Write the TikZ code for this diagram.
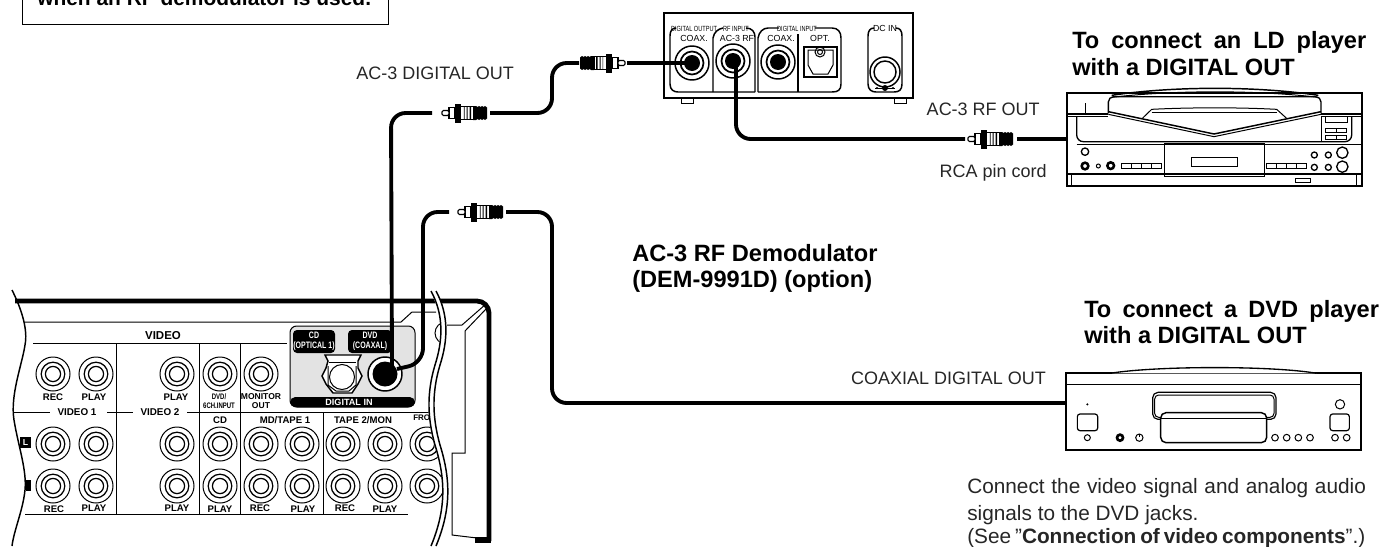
\documentclass[tikz,border=0pt]{standalone}
\usepackage{fontspec}
\setmainfont{Liberation Sans}
\newfontfamily\narrowf{Liberation Sans}[FakeStretch=0.75]
\newcommand{\rcaplug}{%
  \fill (0,-5.5) -- (2,-7) -- (3.5,-6) -- (5,-7) -- (6.5,-6) -- (8,-7) -- (9.5,-6) -- (11,-7) -- (14,-7)
     -- (14,7) -- (11,7) -- (9.5,6) -- (8,7) -- (6.5,6) -- (5,7) -- (3.5,6) -- (2,7) -- (0,5.5) -- cycle;
  \draw[line width=.7pt,fill=white] (14,-6.5) rectangle (27,6.5);
  \fill (16,-6.5) rectangle (17.5,6.5) (19.5,-6.5) rectangle (20.5,6.5) (22.5,-6.5) rectangle (23.2,6.5);
  \fill (26,-9.5) rectangle (32,9.5);
  \draw[line width=.8pt,fill=white] (32,-5.5) rectangle (38,5.5);
  \draw[line width=.8pt,fill=white,rounded corners=1pt] (38,-2.5) rectangle (45,2.5);
}
\tikzset{
 x=0.75pt,y=-0.75pt,
 cable/.style={line width=2.9pt,line cap=butt,rounded corners=11pt},
 thin line/.style={line width=0.75pt},
 mid line/.style={line width=1.1pt},
 lbl/.style={font=\fontsize{13.5pt}{16pt}\selectfont,text=black!85,inner sep=0pt,anchor=base west},
 lble/.style={font=\fontsize{13.5pt}{16pt}\selectfont,text=black!85,inner sep=0pt,anchor=base east},
 notetxt/.style={font=\fontsize{15.6pt}{18pt}\selectfont,text=black!85,inner sep=0pt,anchor=base west},
 head/.style={font=\fontsize{17.7pt}{20pt}\bfseries\selectfont,inner sep=0pt,anchor=base west},
 pan/.style={font=\fontsize{7.2pt}{8pt}\bfseries\selectfont,inner sep=0pt,align=center},
 panw/.style={font=\narrowf\fontsize{7pt}{7.6pt}\bfseries\selectfont,text=white,inner sep=0pt,align=center},
 tiny/.style={font=\narrowf\fontsize{5.6pt}{6pt}\selectfont,inner sep=0pt},
 small/.style={font=\fontsize{6.6pt}{7pt}\selectfont,inner sep=0pt},
 plugr/.pic={\rcaplug},
 plugl/.pic={\begin{scope}[xscale=-1]\rcaplug\end{scope}},
 rcajack/.pic={
  \draw[thin line,fill=white] (0,0) circle[radius=17];
  \draw[line width=.95pt] (0,0) circle[radius=11.8];
  \draw[line width=.95pt] (0,0) circle[radius=7.6];
 },
 boxjack/.pic={
  \draw[mid line,fill=white] (0,0) circle[radius=17];
  \draw[line width=1.3pt] (0,0) circle[radius=11.5];
  \fill (0,0) circle[radius=8];
 }
}
\begin{document}
\begin{tikzpicture}
\useasboundingbox (0,0) rectangle (1380,546);
\clip (0,0) rectangle (1380,546);

%% note box
\draw[thin line] (22,-5) rectangle (388,24.5);
\node[font=\fontsize{15.7pt}{18pt}\bfseries\selectfont,inner sep=0pt,anchor=base west] (note) at (37,5) {when an RF demodulator is used.};

%% ---------- receiver back panel: field
\draw[thin line] (33,343) -- (287,343);
\draw[thin line] (116,343) -- (116,514) (199,343) -- (199,514) (240,343) -- (240,514) (323,412) -- (323,514);
\draw[thin line] (13,412) -- (50,412) (107,412) -- (133,412) (187,412) -- (434,412);
\draw[thin line] (25,514) -- (408,514);
\draw[thin line] (446,333) circle[radius=11];
\draw[thin line] (446,375) circle[radius=12];
\foreach \x in {53,96,177,220,261} \pic at (\x,374) {rcajack};
\foreach \x in {53,96,177,220,261,302,343,385,427} {\pic at (\x,444) {rcajack};\pic at (\x,486) {rcajack};}
%% white area right of the torn edge
\fill[white] (433,291) .. controls (446,315) and (445,340) .. (437,365) .. controls (428,395) and (430,420) .. (437,445) .. controls (448,480) and (448,510) .. (433,546) -- (500,546) -- (500,291) -- cycle;
%% outline
\draw[thin line] (24,322) -- (401,322) -- (412,312) -- (436,312);
\draw[thin line] (447,325) -- (462,325) -- (486,304);
\draw[thin line] (465,331) -- (486,309);
\draw[thin line] (465,331) -- (465,453) -- (452,453) -- (452,535) -- (477,538);
\draw[line width=3.6pt,rounded corners=9pt] (15,301) -- (489,301) -- (489,541);
\fill (475,537) rectangle (491,543);
%% texts
\node[pan,font=\fontsize{8.6pt}{9pt}\bfseries\selectfont] (tvideo) at (163,336) {VIDEO};
\node[pan] (l1) at (53,397) {REC};
\node[pan] (l2) at (94,397) {PLAY};
\node[pan] (l3) at (176,397) {PLAY};
\node[pan,font=\fontsize{7.4pt}{8pt}\bfseries\selectfont] (l4) at (77,412) {VIDEO 1};
\node[pan,font=\fontsize{7.4pt}{8pt}\bfseries\selectfont] (l5) at (160,412) {VIDEO 2};
\node[pan] (l6) at (220,420) {CD};
\node[pan] (l7) at (285,420) {MD/TAPE 1};
\node[pan] (l8) at (363,420) {TAPE 2/MON};
\node[pan,font=\fontsize{6pt}{7pt}\bfseries\selectfont,anchor=west] (l9) at (413,418) {FRO};
\node[pan,font=\narrowf\fontsize{6pt}{7pt}\bfseries\selectfont] (l10) at (219,401) {DVD/\\[-.5pt]6CH.INPUT};
\node[pan,font=\fontsize{6.4pt}{7.2pt}\bfseries\selectfont] (l11) at (261,401) {MONITOR\\OUT};
\node[pan] (l12) at (54,509) {REC};
\node[pan] (l13) at (94,508) {PLAY};
\node[pan] (l14) at (177,508) {PLAY};
\node[pan] (l15) at (220,509) {PLAY};
\node[pan] (l16) at (260,508) {REC};
\node[pan] (l17) at (303,509) {PLAY};
\node[pan] (l18) at (345,508) {REC};
\node[pan] (l19) at (385,509) {PLAY};
\fill (20,437) rectangle (31,448);
\node[panw,font=\fontsize{6.5pt}{7pt}\bfseries\selectfont] (tl) at (25.5,442.5) {L};
\fill (26,480) rectangle (31,491);
%% digital in panel
\fill[white] (287,323) rectangle (418,410);
\draw[thin line,fill=black!11,rounded corners=5pt] (290,326) rectangle (415,407);
\fill[rounded corners=4pt] (290,397) -- (290,407) -- (415,407) -- (415,397) -- cycle;
\fill[rounded corners=3pt] (293,330) rectangle (335,353);
\fill[rounded corners=3pt] (348,330) rectangle (392,353);
\node[panw] (td1) at (314,341.5) {CD\\(OPTICAL 1)};
\node[panw] (td2) at (370,341.5) {DVD\\(COAXAL)};
\node[panw,font=\fontsize{6.8pt}{7pt}\bfseries\selectfont] (td3) at (349,402) {DIGITAL IN};
\draw[mid line,fill=white] (325,355) -- (361,355) -- (358,361) -- (358,368) -- (362,376) -- (358,384) -- (352,393) -- (333,393) -- (326,384) -- (322,376) -- (326,368) -- (328,361) -- cycle;
\draw[thin line] (329,362) -- (356,362);
\draw[thin line,fill=white] (342,377) circle[radius=12.5];
\draw[thin line] (328,366) -- (328,385) -- (336,391) -- (349,391) -- (356,385) -- (356,366);
\draw[mid line,fill=white] (385,374) circle[radius=17];
\fill (385,374) circle[radius=12.5] coordinate (dvdjack);
%% torn edges
\draw[mid line] (12,290) .. controls (22,310) and (28,330) .. (25,345) .. controls (22,365) and (10,395) .. (14,420) .. controls (18,445) and (27,470) .. (25,490) .. controls (23,510) and (14,530) .. (12,546);
\draw[line width=3.9pt,white] (433,291) .. controls (446,315) and (445,340) .. (437,365) .. controls (428,395) and (430,420) .. (437,445) .. controls (448,480) and (448,510) .. (433,546);
\draw[mid line] (431,291) .. controls (444,315) and (443,340) .. (435,365) .. controls (426,395) and (428,420) .. (435,445) .. controls (446,480) and (446,510) .. (431,546);
\draw[mid line] (436,291) .. controls (449,315) and (448,340) .. (440,365) .. controls (431,395) and (433,420) .. (440,445) .. controls (451,480) and (451,510) .. (436,546);

%% ---------- demodulator
\node[draw,mid line,minimum width=249*0.75pt,minimum height=85*0.75pt,inner sep=0pt] (dem) at (788.5,55.5) {};
\draw[thin line] (681,98) rectangle (693,103) (894,98) rectangle (906,103);
\draw[mid line] (676,28) .. controls (672,28) and (670,31) .. (670,36) -- (670,84) .. controls (670,90) and (674,92) .. (678,92) -- (755,92);
\draw[mid line] (713,92) -- (713,38) .. controls (714,32) and (718,29) .. (723,28);
\draw[mid line] (746,28) .. controls (752,28) and (755,32) .. (755,37) -- (755,92);
\draw[mid line] (758,92) -- (758,38) .. controls (759,32) and (763,28) .. (768,28) -- (779,28);
\draw[mid line] (815,28) -- (832,28) .. controls (838,28) and (841,32) .. (841,38) -- (841,84) .. controls (841,90) and (838,92) .. (832,92) -- (758,92);
\draw[mid line] (798,34) -- (798,92);
\draw[mid line] (874,28) .. controls (870,28) and (868,31) .. (868,36) -- (868,84) .. controls (868,90) and (872,92) .. (876,92) -- (894,92) .. controls (899,92) and (902,90) .. (902,84) -- (902,36) .. controls (902,31) and (900,28) .. (896,28);
\node[tiny] (d1) at (694,28.5) {DIGITAL OUTPUT};
\node[tiny] (d2) at (736,28.5) {RF INPUT};
\node[tiny] (d3) at (797,28.5) {DIGITAL INPUT};
\node[small] (d4) at (694,38) {COAX.};
\node[small] (d5) at (737,38) {AC-3 RF};
\node[small] (d6) at (781,38) {COAX.};
\node[small] (d7) at (820,38) {OPT.};
\node[small] (d8) at (885,28.5) {DC IN};
\pic at (692,63) {boxjack};
\pic at (733,61) {boxjack};
\pic at (778,62) {boxjack};
\coordinate (jack1) at (692,63);
\coordinate (jack2) at (736,61);
\draw[mid line] (804,47) rectangle (837,77);
\draw[thin line] (808,50) -- (833,50) -- (833,65) -- (828,74) -- (813,74) -- (808,65) -- cycle;
\draw[thin line] (820,52) circle[radius=5];
\draw[thin line] (820,52) circle[radius=2.5];
\draw[mid line] (885,72) circle[radius=15];
\draw[mid line] (885,72) circle[radius=11];
\draw[thin line] (875,88) -- (895,88);
\fill (885,88) circle[radius=3] (877,88) circle[radius=1.2] (893,88) circle[radius=1.2];

%% ---------- LD player
\node[draw,line width=1pt,minimum width=295*0.75pt,minimum height=93*0.75pt,inner sep=0pt] (ld) at (1214.5,139.5) {};
\begin{scope}[shift={(1040,0)},x=0.25pt,y=-0.25pt,line width=.75pt]
 \draw[line width=1.1pt] (82,342) -- (205,342) (843,342) -- (965,342);
 \draw (82,348) -- (205,348) (843,348) -- (965,348);
 \draw[rounded corners=4pt,line width=1pt] (205,340) -- (205,290) -- (843,290) -- (843,340);
 \draw[line width=1.1pt] (215,286) .. controls (400,258) and (650,258) .. (835,286);
 \draw (215,292) .. controls (400,270) and (650,270) .. (835,292);
 \draw[line width=1.1pt] (205,335) -- (522,402) -- (843,335);
 \draw (205,343) -- (522,410) -- (843,343);
 \draw (305,357) -- (335,328) .. controls (450,322) and (600,322) .. (710,328) -- (742,357);
 \draw (335,336) -- (710,336);
 \draw[rounded corners=5pt,line width=1pt] (110,348) -- (110,425) -- (935,425) -- (935,348);
 \draw (110,432) -- (965,432);
 \draw (135,310) -- (135,340);
 \draw[line width=1pt] (373,430) rectangle (673,530);
 \draw[line width=1pt] (455,473) rectangle (592,500);
 \draw[line width=1pt] (82,522) -- (965,522);
 \draw (95,525) -- (95,555) (950,525) -- (950,555);
 \draw (767,535) rectangle (810,547);
 \draw (845,350) -- (845,425);
 \draw (855,350) rectangle (922,368);
 \draw (855,385) rectangle (920,397) (888,385) -- (888,397);
 \draw (855,405) rectangle (920,417) (888,405) -- (888,417);
 \draw[line width=1pt] (135,455) circle[radius=11];
 \draw[line width=1.9pt] (135,498) circle[radius=10];
 \draw (175,498) circle[radius=6];
 \draw[line width=1.9pt] (212,497) circle[radius=10];
 \draw[line width=.9pt] (245,490) rectangle (365,505) (275,490) -- (275,505) (305,490) -- (305,505) (335,490) -- (335,505);
 \draw[line width=.9pt] (680,490) rectangle (800,505) (710,490) -- (710,505) (740,490) -- (740,505) (770,490) -- (770,505);
 \foreach \x in {823,865} {\draw[line width=1pt] (\x,465) circle[radius=9];\draw[line width=1pt] (\x,502) circle[radius=9];}
 \draw[line width=1pt] (907,458) circle[radius=17] (907,500) circle[radius=17];
\end{scope}

%% ---------- DVD player
\node[draw,line width=1pt,minimum width=295*0.75pt,minimum height=77*0.75pt,inner sep=0pt] (dvd) at (1213.5,411.5) {};
\begin{scope}[shift={(1040,340)},x=0.25pt,y=-0.25pt,line width=.75pt]
 \fill[white] (210,100) .. controls (350,77) and (700,77) .. (830,100) -- cycle;
 \draw[line width=1pt] (78,133) -- (963,133);
 \draw[line width=1pt] (210,100) .. controls (350,77) and (700,77) .. (830,100);
 \draw[line width=.9pt,rounded corners=4pt] (338,157) rectangle (708,238);
 \draw[rounded corners=3pt] (344,165) rectangle (702,232);
 \draw[line width=1.1pt,rounded corners=4pt,fill=white] (362,218) rectangle (680,308);
 \draw (362,236) -- (680,236);
 \fill (142,193) circle[radius=3.5];
 \draw[line width=.9pt,rounded corners=2pt] (112,222) rectangle (173,272);
 \draw (142,293) circle[radius=9];
 \draw[line width=2pt] (240,293) circle[radius=9];
 \draw (298,293) circle[radius=11];
 \draw (298,282) -- (298,292);
 \foreach \x in {705,740,775,810} \draw (\x,293) circle[radius=10];
 \draw (900,193) circle[radius=14];
 \draw[line width=.9pt,rounded corners=2pt] (870,222) rectangle (928,272);
 \draw (885,293) circle[radius=10] (920,293) circle[radius=10];
\end{scope}

%% ---------- plugs
\pic at (487,113) {plugl};
\coordinate (p1l) at (432,113); \coordinate (p1r) at (490,113);
\pic at (580,63) {plugr};
\coordinate (p2l) at (579,63); \coordinate (p2r) at (627,63);
\pic at (503,212) {plugl};
\coordinate (p3l) at (449,212); \coordinate (p3r) at (506,212);
\pic at (1013,139) {plugl};
\coordinate (p4l) at (965,139); \coordinate (p4r) at (1017,139);
\coordinate (ldin) at (1067,139);
\coordinate (dvdin) at (1066,403);

%% ---------- cables
\draw[cable] (392,366) -- (391,113) -- (p1l);
\draw[cable] (p1r) -- (552,113) -- (552,63) -- (p2l);
\draw[cable] (p2r) -- (jack1);
\draw[cable] (397,369) -- (423,363) -- (423,212) -- (p3l);
\draw[cable] (p3r) -- (552,212) -- (552,403) -- (dvdin);
\draw[cable] (jack2) -- (736,139) -- (p4l);
\draw[cable] (p4r) -- (ldin);

%% ---------- labels
\node[lbl] (t1) at (356,79) {AC-3 DIGITAL OUT};
\node[lble] (t3) at (1040,115) {AC-3 RF OUT};
\node[lble] (t4) at (1047,177) {RCA pin cord};
\node[lble] (t5) at (1046,384) {COAXIAL DIGITAL OUT};
\node[head] (h1) at (1072,48) {\makebox[220.5pt][s]{To connect an LD player}};
\node[head] (h2) at (1072,75) {with a DIGITAL OUT};
\node[head] (h3) at (632,261) {AC-3 RF Demodulator};
\node[head] (h4) at (632,287) {(DEM-9991D) (option)};
\node[head] (h5) at (1084,317) {\makebox[221pt][s]{To connect a DVD player}};
\node[head] (h6) at (1084,343) {with a DIGITAL OUT};
\node[notetxt] (n1) at (967,493) {\makebox[299pt][s]{Connect the video signal and analog audio}};
\node[notetxt] (n2) at (967,520) {signals to the DVD jacks.};
\node[notetxt] (n3) at (967,543) {\makebox[298.5pt][s]{(See "\textbf{Connection of video components}".)}};
\end{tikzpicture}
\end{document}
